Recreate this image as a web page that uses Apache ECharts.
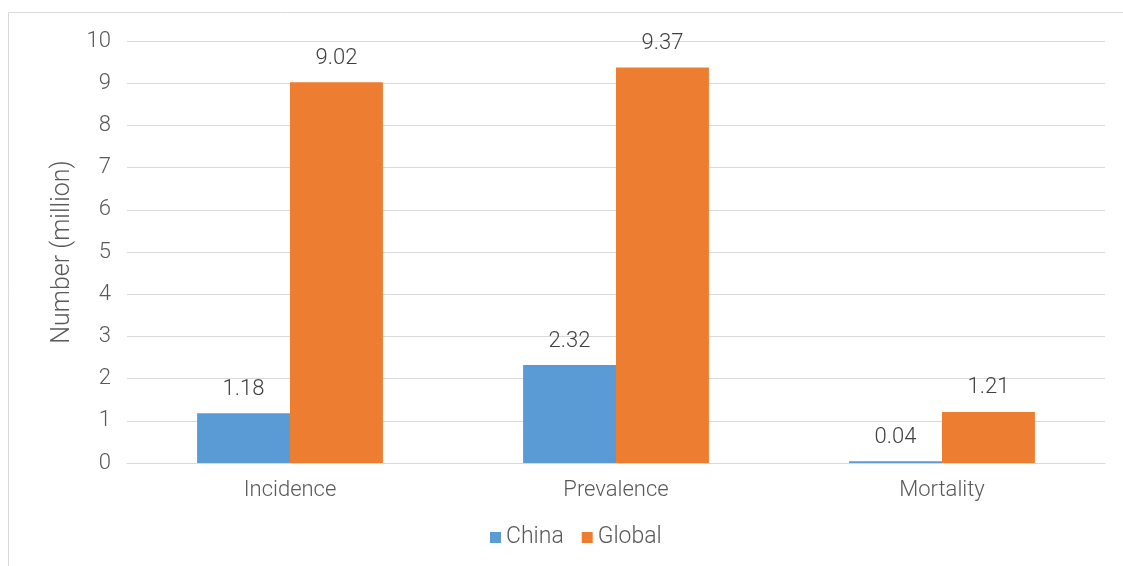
<!DOCTYPE html>
<html><head><meta charset="utf-8">
<script src="https://cdn.jsdelivr.net/npm/echarts@6/dist/echarts.min.js"></script>
<style>html,body{margin:0;padding:0;background:#fff}#c{width:1123px;height:566px}</style>
</head><body><div id="c"></div>
<script>
const categories = ['Incidence', 'Prevalence', 'Mortality'];
const china = [1.18, 2.32, 0.04];
const global = [9.02, 9.37, 1.21];
const yTicks = [0, 10, 1];

const font = 'Roboto';
const fw = 300;
const chart = echarts.init(document.getElementById('c'));
chart.setOption({
  animation: false,
  backgroundColor: '#fff',
  graphic: [{type: 'rect', shape: {x: 8.5, y: 12.5, width: 1300, height: 700}, style: {fill: 'none', stroke: '#d9d9d9', lineWidth: 1}}],
  grid: {left: 127, right: 18, top: 41, bottom: 103},
  legend: {
    bottom: 12, left: 485, itemWidth: 11, itemHeight: 11, itemGap: 18,
    icon: 'rect',
    textStyle: {fontFamily: font, fontWeight: fw, fontSize: 23, color: '#595959', padding: [0,0,0,0]},
    data: ['China', 'Global']
  },
  xAxis: {
    type: 'category', data: categories,
    axisLine: {show: true, lineStyle: {color: '#d9d9d9', width: 1}},
    axisTick: {show: false},
    axisLabel: {fontFamily: font, fontWeight: fw, fontSize: 22, color: '#595959', margin: 16}
  },
  yAxis: {
    type: 'value', min: yTicks[0], max: yTicks[1], interval: yTicks[2],
    name: 'Number (million)', nameLocation: 'middle', nameGap: 52,
    nameTextStyle: {fontFamily: font, fontWeight: fw, fontSize: 25, color: '#595959'},
    axisLine: {show: false}, axisTick: {show: false},
    axisLabel: {fontFamily: font, fontWeight: fw, fontSize: 22, color: '#595959', margin: 16},
    splitLine: {lineStyle: {color: '#d9d9d9', width: 1}}
  },
  series: [
    {name: 'China', type: 'bar', data: china, barGap: '0%', barCategoryGap: '43%',
     itemStyle: {color: '#5b9bd5'},
     label: {show: true, position: 'top', distance: 13, fontFamily: font, fontWeight: fw, fontSize: 22, color: '#404040', formatter: p => p.value.toFixed(2)}},
    {name: 'Global', type: 'bar', data: global, barGap: '0%', barCategoryGap: '43%',
     itemStyle: {color: '#ed7d31'},
     label: {show: true, position: 'top', distance: 13, fontFamily: font, fontWeight: fw, fontSize: 22, color: '#404040', formatter: p => p.value.toFixed(2)}}
  ]
});
</script></body></html>
